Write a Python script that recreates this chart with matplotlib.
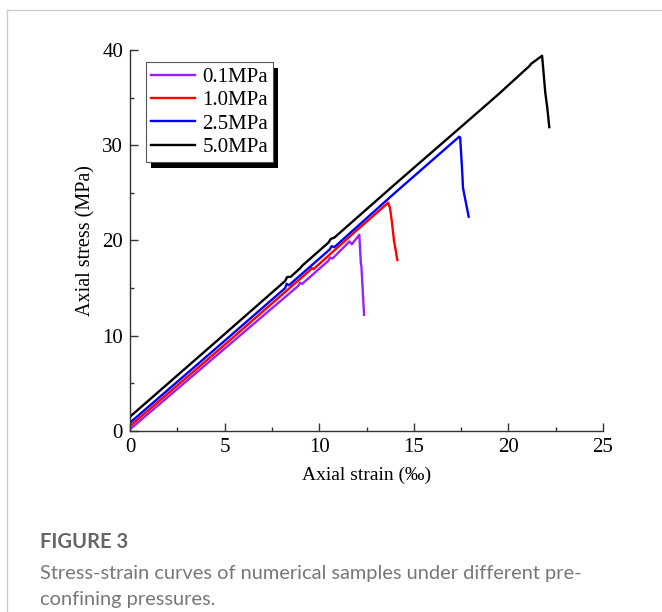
import numpy as np
import matplotlib
matplotlib.use("Agg")
import matplotlib.pyplot as plt
from matplotlib.lines import Line2D
from matplotlib.patches import Rectangle
from matplotlib.transforms import IdentityTransform

# stress-strain curves, strain in per mille, stress in MPa
labels = ["0.1MPa", "1.0MPa", "2.5MPa", "5.0MPa"]
colors = ["#9B1EFF", "#FF0000", "#0000FF", "#000000"]

strain_01 = [0.0, 4.5, 8.9, 8.98, 9.1, 10.5, 10.57, 10.7, 11.6, 11.72, 12.12, 12.2, 12.23, 12.37]
stress_01 = [0.18, 7.8, 15.25, 15.55, 15.45, 17.9, 18.2, 18.1, 19.9, 19.6, 20.6, 17.6, 17.3, 12.2]

strain_10 = [0.0, 4.8, 9.5, 9.6, 9.7, 12.0, 13.65, 13.75, 13.85, 13.95, 14.13]
stress_10 = [0.52, 8.7, 16.85, 17.1, 17.0, 21.1, 23.97, 23.3, 21.8, 20.0, 17.95]

strain_25 = [0.0, 4.5, 8.2, 8.28, 8.4, 10.55, 10.66, 10.8, 14.0, 17.4, 17.45, 17.55, 17.6, 17.75, 17.9]
stress_25 = [0.87, 8.6, 15.0, 15.45, 15.3, 19.05, 19.4, 19.3, 25.0, 30.9, 30.8, 27.5, 25.5, 24.0, 22.5]

strain_50 = [0.0, 4.5, 8.2, 8.3, 8.5, 9.0, 9.1, 10.5, 10.6, 10.8, 14.0, 18.0, 19.5, 21.1, 21.2,
             21.78, 21.95, 22.05, 22.16]
stress_50 = [1.5, 9.3, 15.75, 16.15, 16.2, 17.1, 17.35, 19.8, 20.15, 20.3, 25.9, 32.8, 35.4, 38.3, 38.55,
             39.4, 35.5, 34.0, 31.9]

curves = [(strain_01, stress_01), (strain_10, stress_10),
          (strain_25, stress_25), (strain_50, stress_50)]

serif = ["Liberation Serif", "DejaVu Serif"]

fig = plt.figure(figsize=(6.62, 6.12), dpi=100)
ax = fig.add_axes([0.1964, 0.2958, 0.7145, 0.6225])

for (x, y), lab, c in zip(curves, labels, colors):
    ax.plot(x, y, color=c, lw=1.7, label=lab)

ax.set_xlim(0, 25)
ax.set_ylim(0, 40)
ax.set_xticks([0, 5, 10, 15, 20, 25])
ax.set_xticks(np.arange(2.5, 25, 5), minor=True)
ax.set_yticks([0, 10, 20, 30, 40])
ax.set_yticks([5, 15, 25, 35], minor=True)
ax.spines["top"].set_visible(False)
ax.spines["right"].set_visible(False)
for s in ("left", "bottom"):
    ax.spines[s].set_linewidth(1.0)
    ax.spines[s].set_color("#333333")
ax.tick_params(which="major", direction="in", length=5.5, width=1.0, color="#333333", pad=5)
ax.tick_params(which="minor", direction="in", length=3.2, width=1.0, color="#333333")
for t in ax.get_xticklabels() + ax.get_yticklabels():
    t.set_fontfamily(serif)
    t.set_fontsize(15)

ax.set_xlabel("Axial strain (\u2030)", family=serif, fontsize=14, labelpad=7)
ax.set_ylabel("Axial stress (MPa)", family=serif, fontsize=14.5, labelpad=5)

leg = ax.legend(loc="upper left", bbox_to_anchor=(0.034, 0.968), prop={"family": serif, "size": 15},
                frameon=True, fancybox=False, framealpha=1, edgecolor="#555555",
                handlelength=2.1, handletextpad=0.35, labelspacing=0.18, borderpad=0.25,
                borderaxespad=0)
leg.get_frame().set_linewidth(0.8)
leg.set_zorder(6)

# solid offset shadow behind the legend box
fig.canvas.draw()
bb = leg.get_window_extent()
shadow = Rectangle((bb.x0 + 5, bb.y0 - 6), bb.width, bb.height, transform=IdentityTransform(),
                   facecolor="black", edgecolor="none", zorder=5)
ax.add_artist(shadow)

# panel border
fig.add_artist(Line2D([7 / 662, 1], [1 - 10 / 612, 1 - 10 / 612], color="#cccccc", lw=1.0))
fig.add_artist(Line2D([7 / 662, 7 / 662], [0, 1 - 10 / 612], color="#cccccc", lw=1.0))

cap = ["Lato", "DejaVu Sans"]
fig.text(40 / 662, 1 - 542 / 612, "FIGURE 3", family=cap, fontsize=14.5, color="#666666",
         weight="bold", va="center")
fig.text(40 / 662, 1 - 573 / 612, "Stress-strain curves of numerical samples under different pre-",
         family=cap, fontsize=14.4, color="#777777", va="center")
fig.text(40 / 662, 1 - 600 / 612, "confining pressures.", family=cap, fontsize=14.4,
         color="#777777", va="center")

fig.savefig("out.png", dpi=100)
